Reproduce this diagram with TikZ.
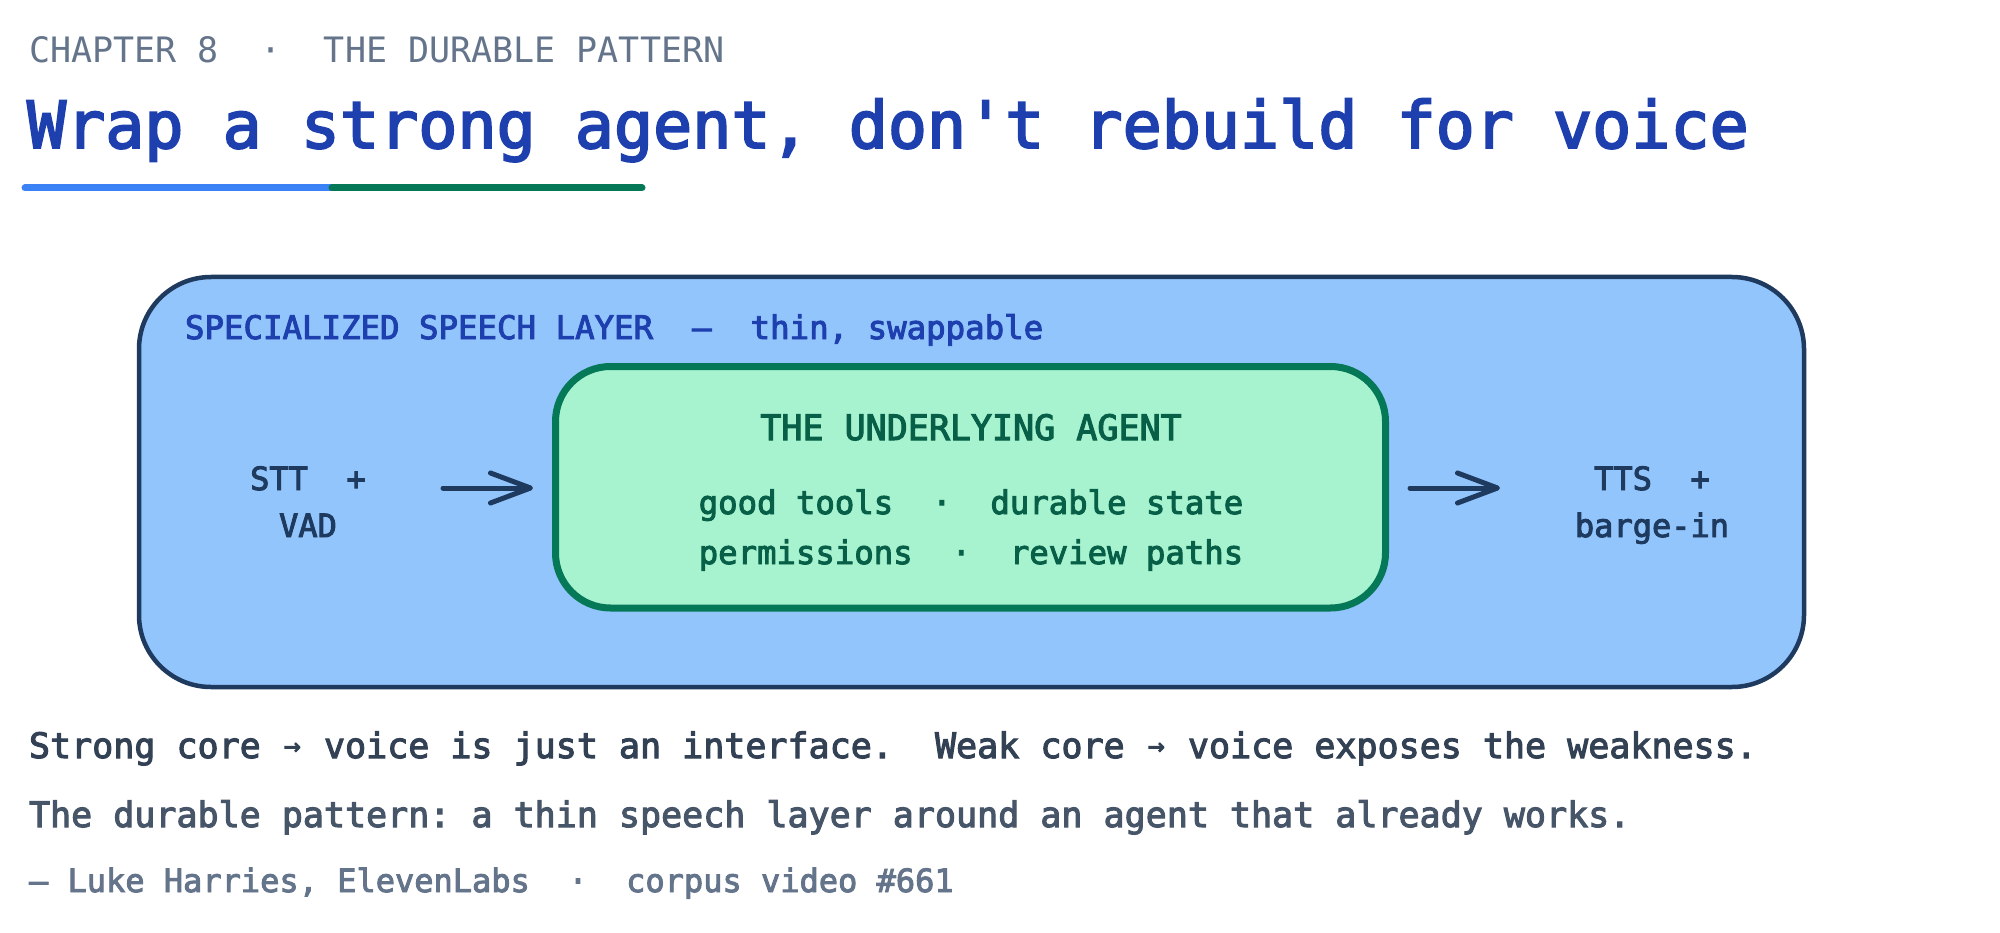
\documentclass[tikz,border=0pt]{standalone}
\usepackage{fontspec}
\setmonofont{DejaVu Sans Mono}
\newfontfamily\semimono{DejaVu Sans Mono}[FakeBold=3]
\usetikzlibrary{arrows.meta}
\definecolor{slategray}{HTML}{64748B}
\definecolor{titleblue}{HTML}{1E40AF}
\definecolor{ulblue}{HTML}{3B82F6}
\definecolor{ulgreen}{HTML}{047857}
\definecolor{layerfill}{HTML}{93C5FD}
\definecolor{layerline}{HTML}{1E3A5F}
\definecolor{agentfill}{HTML}{A7F3D0}
\definecolor{agentline}{HTML}{047857}
\definecolor{agenttext}{HTML}{065F46}
\definecolor{bodyone}{HTML}{334155}
\definecolor{bodytwo}{HTML}{475569}
\newcommand\setfs[1]{\fontsize{#1}{#1}\selectfont}
\newcommand\smarr{\makebox[0.602em][c]{\raisebox{3pt}{\fontsize{28}{28}\selectfont →}}}
\begin{document}
\begin{tikzpicture}[x=1pt,y=-1pt,
  every node/.style={inner sep=0pt,outer sep=0pt},
  lefttxt/.style={anchor=base west},
  ctxt/.style={anchor=base},
  arr/.style={draw=layerline,line width=5pt,line cap=round,
    -{Straight Barb[length=40pt,width=30pt,round]}},
  ulbar/.style={line width=7pt,line cap=round}]
\useasboundingbox (0,0) rectangle (2000,933);
\fill[white] (0,0) rectangle (2000,933);

% header
\node[lefttxt,text=slategray,font=\ttfamily\setfs{35}] (chap) at (29,63)
  {CHAPTER~8~~·~~THE~DURABLE~PATTERN};
\node[lefttxt,text=titleblue,font=\semimono\setfs{65}] (title) at (27,148)
  {Wrap~a~strong~agent,~don't~rebuild~for~voice};
\coordinate (ula) at (25,188);
\coordinate (ulb) at (332,188);
\coordinate (ulc) at (642,188);
\draw[ulbar,ulblue] (ula) -- (ulb);
\draw[ulbar,ulgreen] (ulb) -- (ulc);

% boxes
\node[draw=layerline,fill=layerfill,line width=4.5pt,rounded corners=72pt,
  minimum width=1665pt,minimum height=410pt] (layer) at (971.5,482) {};
\node[lefttxt,text=titleblue,font=\semimono\setfs{32.4}] (layerlbl) at (185,339)
  {SPECIALIZED~SPEECH~LAYER~~—~~thin,~swappable};
\node[draw=agentline,fill=agentfill,line width=7pt,rounded corners=55pt,
  minimum width=830pt,minimum height=241.5pt] (agent) at (970.5,487.25) {};
\node[ctxt,text=agenttext,font=\semimono\setfs{35}] (agenttitle) at (971,440)
  {THE~UNDERLYING~AGENT};
\node[ctxt,text=agenttext,font=\semimono\setfs{32.3}] (agentl1) at (971,514)
  {good~tools~~·~~durable~state};
\node[ctxt,text=agenttext,font=\semimono\setfs{32.3}] (agentl2) at (971,564)
  {permissions~~·~~review~paths};

% side labels
\node[ctxt,text=layerline,font=\semimono\setfs{32}] (stt) at (308,490) {STT~~+};
\node[ctxt,text=layerline,font=\semimono\setfs{32}] (vad) at (308,537) {VAD};
\node[ctxt,text=layerline,font=\semimono\setfs{32}] (tts) at (1652,490) {TTS~~+};
\node[ctxt,text=layerline,font=\semimono\setfs{32}] (barge) at (1652,537) {barge-in};

% arrows
\coordinate (a1s) at (443,488);
\coordinate (a1e) at (533,488);
\coordinate (a2s) at (1410,488);
\coordinate (a2e) at (1500,488);
\draw[arr] (a1s) -- (a1e);
\draw[arr] (a2s) -- (a2e);

% footer
\node[lefttxt,text=bodyone,font=\semimono\setfs{35}] (foot1) at (29,758)
  {Strong~core~\smarr~voice~is~just~an~interface.~~Weak~core~\smarr~voice~exposes~the~weakness.};
\node[lefttxt,text=bodytwo,font=\semimono\setfs{35}] (foot2) at (29,827)
  {The~durable~pattern:~a~thin~speech~layer~around~an~agent~that~already~works.};
\node[lefttxt,text=slategray,font=\semimono\setfs{32}] (foot3) at (29,892)
  {—~Luke~Harries,~ElevenLabs~~·~~corpus~video~\#661};
\end{tikzpicture}
\end{document}
